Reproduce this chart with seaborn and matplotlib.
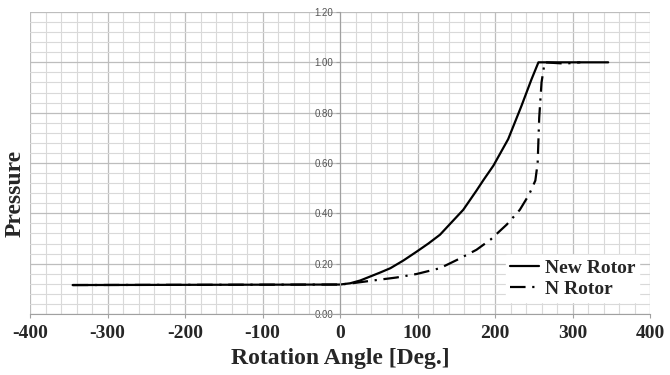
import matplotlib
matplotlib.use("Agg")
import matplotlib.pyplot as plt
from matplotlib.ticker import MultipleLocator, FormatStrFormatter
import seaborn as sns
import pandas as pd

# data
new_angle = [-345, 0, 13, 26, 39, 52, 65, 82, 99, 114, 129, 142, 159, 176,
             185, 198, 217, 234, 247, 256, 346]
new_pressure = [0.115, 0.117, 0.122, 0.133, 0.149, 0.165, 0.182, 0.213, 0.248,
                0.28, 0.315, 0.358, 0.414, 0.49, 0.532, 0.59, 0.695, 0.826,
                0.932, 1.0, 1.0]

n_angle = [-345, 0, 13, 40, 73, 99, 129, 151, 176, 194, 215, 232, 244, 252,
           255, 257, 260, 264, 290, 310]
n_pressure = [0.115, 0.117, 0.121, 0.132, 0.145, 0.159, 0.182, 0.215, 0.255,
              0.295, 0.355, 0.414, 0.475, 0.53, 0.6, 0.78, 0.92, 1.0, 0.995, 1.0]

x_ticks = [-400, -300, -200, -100, 0, 100, 200, 300, 400]

df_new = pd.DataFrame({"angle": new_angle, "pressure": new_pressure})
df_n = pd.DataFrame({"angle": n_angle, "pressure": n_pressure})

sns.set_style("white")
plt.rcParams["axes.unicode_minus"] = False
serif = ["Liberation Serif", "DejaVu Serif"]

fig = plt.figure(figsize=(6.7, 3.75), dpi=100)
ax = fig.add_axes([0.0448, 0.1627, 0.9254, 0.8053])

sns.lineplot(data=df_new, x="angle", y="pressure", ax=ax, color="black",
             lw=1.6, label="New Rotor", sort=False)
sns.lineplot(data=df_n, x="angle", y="pressure", ax=ax, color="black",
             lw=1.6, label="N Rotor", sort=False, dashes=(7, 3, 1, 3))

ax.set_xlim(-400, 400)
ax.set_ylim(0, 1.2)
ax.set_xticks(x_ticks, labels=[str(t) for t in x_ticks], fontsize=14,
              fontweight="bold", family=serif)
ax.xaxis.set_minor_locator(MultipleLocator(20))
ax.yaxis.set_major_locator(MultipleLocator(0.2))
ax.yaxis.set_minor_locator(MultipleLocator(0.04))
ax.grid(which="major", color="#bdbdbd", lw=0.9)
ax.grid(which="minor", color="#d9d9d9", lw=0.8)
ax.set_axisbelow(True)

# y axis sits at x = 0
for s in ["top", "right"]:
    ax.spines[s].set_visible(False)
ax.spines["left"].set_position(("data", 0))
ax.spines["left"].set_color("#a0a0a0")
ax.spines["bottom"].set_color("#a0a0a0")

ax.yaxis.set_major_formatter(FormatStrFormatter("%.2f"))
ax.tick_params(axis="y", which="major", labelsize=7, labelcolor="#555555",
               length=3, color="#a0a0a0", pad=2, direction="out", left=True)
for lab in ax.get_yticklabels():
    lab.set_fontfamily("Liberation Sans")
ax.tick_params(axis="y", which="minor", left=False)
ax.tick_params(axis="x", which="major", pad=5, length=3, color="#a0a0a0",
               bottom=True)
ax.tick_params(axis="x", which="minor", bottom=False)

ax.set_xlabel("Rotation Angle [Deg.]", fontsize=17, fontweight="bold",
              family=serif, labelpad=4)
ax.set_ylabel("")
fig.text(0.022, 0.483, "Pressure", rotation=90, fontsize=17, fontweight="bold",
         family=serif, ha="center", va="center")

leg = ax.legend(loc="center left", bbox_to_anchor=(0.752, 0.1175), frameon=True,
                fancybox=False, edgecolor="white", facecolor="white",
                framealpha=1, handlelength=1.5, handletextpad=0.3,
                borderpad=0.2, labelspacing=0.2,
                prop={"family": serif, "weight": "bold", "size": 14})

fig.savefig("out.png", dpi=100)
